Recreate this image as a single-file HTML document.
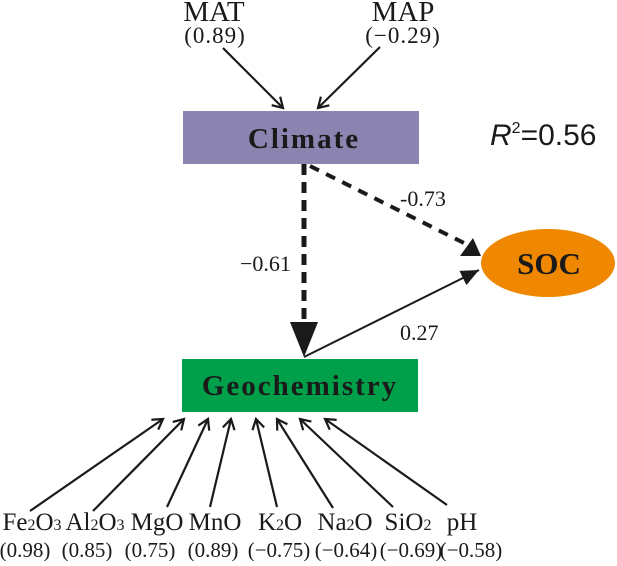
<!DOCTYPE html>
<html><head><meta charset="utf-8"><style>
html,body{margin:0;padding:0;background:#fff}
text{font-family:"Liberation Serif",serif;fill:#1a1a1a}
.s{font-family:"Liberation Sans",sans-serif}
</style></head><body>
<svg width="617" height="561" viewBox="0 0 617 561" xmlns="http://www.w3.org/2000/svg">
<defs>
<marker id="open" markerWidth="14" markerHeight="14" refX="11" refY="7" orient="auto" markerUnits="userSpaceOnUse">
<path d="M1,1 L11,7 L1,13" fill="none" stroke="#1a1a1a" stroke-width="2.2"/>
</marker>
<marker id="tri" markerWidth="20" markerHeight="18" refX="18" refY="9" orient="auto" markerUnits="userSpaceOnUse">
<path d="M0,1 L18,9 L0,17 Z" fill="#1a1a1a"/>
</marker>
</defs>
<text x="214" y="21" font-size="29" text-anchor="middle">MAT</text>
<text x="215" y="43" font-size="23" text-anchor="middle" letter-spacing="1">(0.89)</text>
<text x="403" y="21" font-size="29" text-anchor="middle">MAP</text>
<text x="403" y="43" font-size="23" text-anchor="middle" letter-spacing="1">(−0.29)</text>
<line x1="223" y1="48" x2="283" y2="108" stroke="#1a1a1a" stroke-width="2.2" marker-end="url(#open)"/>
<line x1="380" y1="47" x2="318" y2="108" stroke="#1a1a1a" stroke-width="2.2" marker-end="url(#open)"/>
<rect x="183" y="111" width="236" height="53" fill="#8c84b0"/>
<text x="304" y="148" font-size="29" font-weight="bold" text-anchor="middle" letter-spacing="2">Climate</text>
<text class="s" x="490" y="145" font-size="30"><tspan font-style="italic">R</tspan><tspan font-size="16" dy="-12">2</tspan><tspan dy="12">=0.56</tspan></text>
<line x1="304" y1="164" x2="304" y2="324" stroke="#1a1a1a" stroke-width="5" stroke-dasharray="11,7"/>
<path d="M290,322 L318,322 L304,357 Z" fill="#1a1a1a"/>
<line x1="310" y1="166" x2="466" y2="244" stroke="#1a1a1a" stroke-width="4" stroke-dasharray="10,8"/>
<path d="M460,256 L481,256 L473,238 Z" fill="#1a1a1a"/>
<line x1="304" y1="357" x2="479" y2="270" stroke="#1a1a1a" stroke-width="2" marker-end="url(#tri)"/>
<text x="400" y="206" font-size="22">-0.73</text>
<text x="240" y="271" font-size="22">−0.61</text>
<text x="400" y="340" font-size="22">0.27</text>
<ellipse cx="548" cy="263" rx="67" ry="34" fill="#ef8700"/>
<text x="549" y="274" font-size="31" font-weight="bold" text-anchor="middle">SOC</text>
<rect x="182" y="359" width="236" height="53" fill="#00a04a"/>
<text x="300" y="395" font-size="29" font-weight="bold" text-anchor="middle" letter-spacing="2">Geochemistry</text>
<g stroke="#1a1a1a" stroke-width="2.2" marker-end="url(#open)">
<line x1="30" y1="511" x2="163" y2="419"/>
<line x1="93" y1="511" x2="184" y2="419"/>
<line x1="167" y1="507" x2="208" y2="419"/>
<line x1="210" y1="507" x2="231" y2="419"/>
<line x1="277" y1="507" x2="256" y2="419"/>
<line x1="333" y1="508" x2="277" y2="419"/>
<line x1="393" y1="507" x2="300" y2="419"/>
<line x1="447" y1="505" x2="325" y2="419"/>
</g>
<g font-size="25" text-anchor="middle">
<text x="32" y="530">Fe<tspan font-size="16">2</tspan>O<tspan font-size="16">3</tspan></text>
<text x="95" y="530">Al<tspan font-size="16">2</tspan>O<tspan font-size="16">3</tspan></text>
<text x="157" y="530">MgO</text>
<text x="215" y="530">MnO</text>
<text x="280" y="530">K<tspan font-size="16">2</tspan>O</text>
<text x="345" y="530">Na<tspan font-size="16">2</tspan>O</text>
<text x="408" y="530">SiO<tspan font-size="16">2</tspan></text>
<text x="462" y="530">pH</text>
</g>
<g font-size="21" text-anchor="middle">
<text x="25" y="557">(0.98)</text>
<text x="87" y="557">(0.85)</text>
<text x="150" y="557">(0.75)</text>
<text x="213" y="557">(0.89)</text>
<text x="279" y="557">(−0.75)</text>
<text x="346" y="557">(−0.64)</text>
<text x="411" y="557">(−0.69)</text>
<text x="471" y="557">(−0.58)</text>
</g>
</svg>
</body></html>
